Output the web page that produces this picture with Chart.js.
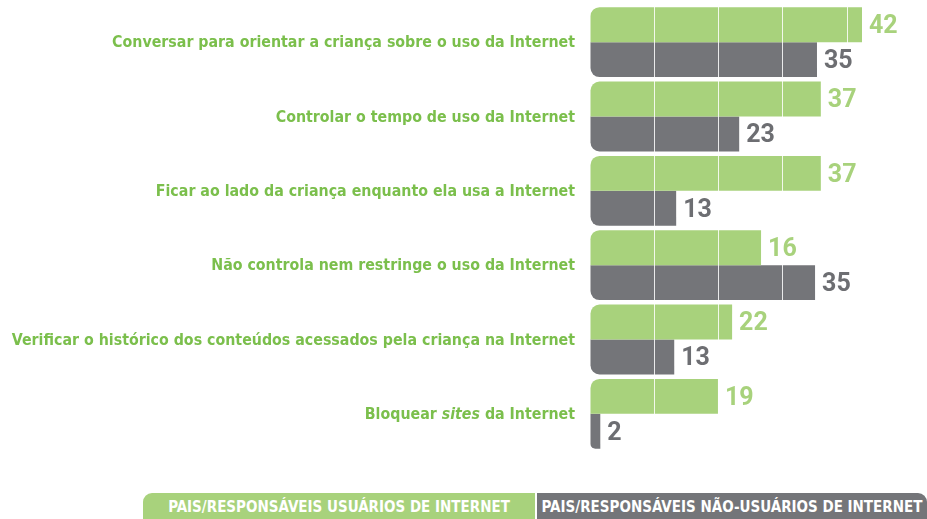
<!DOCTYPE html>
<html>
<head>
<meta charset="utf-8">
<script src="https://cdn.jsdelivr.net/npm/chart.js@4"></script>
<style>
  html, body { margin: 0; padding: 0; background: #fff; }
  #wrap { position: relative; width: 927px; height: 519px; overflow: hidden; }
  #chart { position: absolute; left: 0; top: 0; }
  .leg {
    position: absolute; top: 493px; height: 30px;
    color: #fff; font: bold 15px "Liberation Sans Narrow", "DejaVu Sans Condensed", sans-serif;
    text-align: center; line-height: 28px; white-space: nowrap;
  }
  #leg-a { left: 143px; width: 392px; background: #a8d27c; border-top-left-radius: 9px; }
  #leg-b { left: 537px; width: 390px; background: #747579; border-top-right-radius: 9px; }
</style>
</head>
<body>
<div id="wrap">
  <canvas id="chart" width="927" height="519"></canvas>
  <div class="leg" id="leg-a"></div>
  <div class="leg" id="leg-b"></div>
</div>
<script>
// categorias (trecho entre _ _ vai em itálico)
const categories = [
    'Conversar para orientar a criança sobre o uso da Internet',
    'Controlar o tempo de uso da Internet',
    'Ficar ao lado da criança enquanto ela usa a Internet',
    'Não controla nem restringe o uso da Internet',
    'Verificar o histórico dos conteúdos acessados pela criança na Internet',
    'Bloquear _sites_ da Internet'
];
const seriesNames = ['PAIS/RESPONSÁVEIS USUÁRIOS DE INTERNET', 'PAIS/RESPONSÁVEIS NÃO-USUÁRIOS DE INTERNET'];

// valores impressos ao lado das barras
const usuariosLabels = [42, 37, 37, 16, 22, 19];
const naoUsuariosLabels = [35, 23, 13, 35, 13, 2];

// comprimento das barras tal como aparecem no original (medido na figura;
// a barra do "16" está desenhada mais longa no original)
const usuarios = [42.3, 35.9, 35.9, 26.6, 22.1, 19.9];
const naoUsuarios = [35.3, 23.2, 13.4, 35, 13.1, 1.6];

const GREEN = '#a8d27c';
const GRAY = '#747579';
const LABEL_GREEN = '#7bbf4c';

document.getElementById('leg-a').textContent = seriesNames[0];
document.getElementById('leg-b').textContent = seriesNames[1];

const labelFont = '"Liberation Sans Narrow", "DejaVu Sans Condensed", sans-serif';
const valueLabels = [usuariosLabels, naoUsuariosLabels];

// desenha os rótulos das categorias e os valores ao lado das barras
const labelsPlugin = {
    id: 'labels',
    afterDraw(chart) {
        const ctx = chart.ctx;
        const yScale = chart.scales.y;
        ctx.save();
        ctx.textBaseline = 'middle';
        categories.forEach((cat, i) => {
            const y = yScale.getPixelForValue(i) + 1;
            const parts = cat.split('_');
            const fonts = parts.map((p, k) => (k % 2 ? 'italic bold 15.8px ' : 'bold 15.8px ') + labelFont);
            let total = 0;
            const widths = parts.map((p, k) => { ctx.font = fonts[k]; const w = ctx.measureText(p).width; total += w; return w; });
            let x = 575 - total;
            ctx.fillStyle = LABEL_GREEN;
            ctx.textAlign = 'left';
            parts.forEach((p, k) => { ctx.font = fonts[k]; ctx.fillText(p, x, y); x += widths[k]; });
        });
        ctx.font = 'bold 25px Roboto, "Liberation Sans", sans-serif';
        ctx.textAlign = 'left';
        chart.data.datasets.forEach((ds, d) => {
            const meta = chart.getDatasetMeta(d);
            meta.data.forEach((bar, i) => {
                ctx.fillStyle = d === 0 ? GREEN : '#6d6e72';
                ctx.fillText(String(valueLabels[d][i]), bar.x + 7, bar.y + 2);
            });
        });
        ctx.restore();
    }
};

new Chart(document.getElementById('chart'), {
    type: 'bar',
    data: {
        labels: categories,
        datasets: [{
            label: seriesNames[0],
            data: usuarios,
            backgroundColor: GREEN,
            borderWidth: 0,
            borderSkipped: false,
            borderRadius: { topLeft: 9, topRight: 0, bottomLeft: 0, bottomRight: 0 },
            categoryPercentage: 0.94,
            barPercentage: 1
        }, {
            label: seriesNames[1],
            data: naoUsuarios,
            backgroundColor: GRAY,
            borderWidth: 0,
            borderSkipped: false,
            borderRadius: { topLeft: 0, topRight: 0, bottomLeft: 9, bottomRight: 0 },
            categoryPercentage: 0.94,
            barPercentage: 1
        }]
    },
    options: {
        indexAxis: 'y',
        responsive: false,
        animation: false,
        layout: { padding: { top: 5, bottom: 68, right: 15.5, left: 0 } },
        plugins: {
            legend: { display: false },
            tooltip: { enabled: false }
        },
        scales: {
            x: {
                min: 0,
                max: 50,
                border: { display: false },
                ticks: { display: false, stepSize: 10 },
                grid: {
                    z: 1,
                    drawTicks: false,
                    lineWidth: 1,
                    color: (c) => c.tick && c.tick.value === 0 ? 'rgba(0,0,0,0)' : 'rgba(255,255,255,0.85)'
                }
            },
            y: {
                border: { display: false },
                grid: { display: false },
                ticks: { display: false },
                afterFit: (scale) => { scale.width = 590; }
            }
        }
    },
    plugins: [labelsPlugin]
});
</script>
</body>
</html>
